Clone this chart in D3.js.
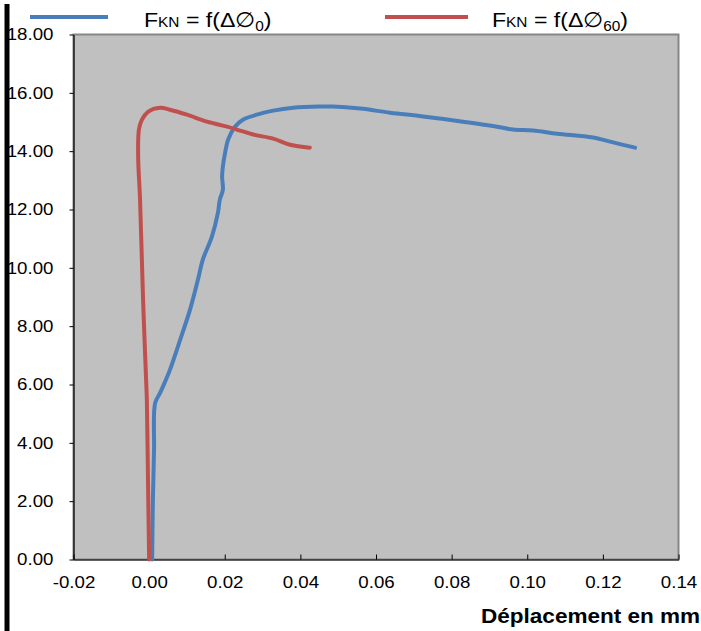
<!DOCTYPE html>
<html><head><meta charset="utf-8">
<script src="https://cdn.jsdelivr.net/npm/d3@7"></script>
<style>body{margin:0;background:#fff;}svg{display:block;font-family:Arial,"Liberation Sans",sans-serif;}</style>
</head><body>
<svg id="c" width="701" height="631"></svg>
<script>
const xTicks = [-0.02,0,0.02,0.04,0.06,0.08,0.10,0.12,0.14];
const yTicks = [0,2,4,6,8,10,12,14,16,18];
const seriesSub = ["0","60"];
const blueX = [0.0008,0.0010,0.0013,0.0016,0.0029,0.0042,0.0055,0.0082,0.0108,0.0129,0.0142,0.0166,0.0182,0.0187,0.0195,0.0193,0.0195,0.0201,0.0209,0.0227,0.0248,0.0285,0.0328,0.0381,0.0452,0.0486,0.0558,0.0637,0.0724,0.0830,0.0920,0.0962,0.1015,0.1079,0.1174,0.1227,0.1285];
const blueY = [0,2.04,3.76,5.37,5.71,6.09,6.50,7.53,8.56,9.59,10.28,11.07,11.89,12.34,12.68,13.13,13.47,13.95,14.40,14.84,15.08,15.25,15.39,15.49,15.53,15.53,15.46,15.32,15.19,15.01,14.84,14.74,14.71,14.60,14.47,14.30,14.12];
const redX = [0.0000,-0.0003,-0.0006,-0.0008,-0.0016,-0.0024,-0.0029,-0.0027,-0.0019,-0.0003,0.0029,0.0055,0.0100,0.0153,0.0206,0.0232,0.0275,0.0328,0.0373,0.0425];
const redY = [0,2.73,5.47,6.16,8.91,12.34,13.81,14.74,15.08,15.35,15.49,15.42,15.25,15.01,14.84,14.74,14.57,14.43,14.22,14.12];
const colors = ["#4a7ebb","#c0504d"];

const svg = d3.select("#c");
const L=73.5, R=678.5, T=34.5, B=559.5;
const SX = 1.1;
const x = d3.scaleLinear().domain([-0.02,0.14]).range([L,R]);
const y = d3.scaleLinear().domain([0,18]).range([B,T]);
const fmt = d => d.toFixed(2);

// left black bar
svg.append("rect").attr("x",4.5).attr("y",4).attr("width",5).attr("height",627).attr("fill","#000");

// plot area
svg.append("rect").attr("x",L).attr("y",T).attr("width",R-L).attr("height",B-T)
  .attr("fill","#c0c0c0").attr("stroke","#868686").attr("stroke-width",2);

// x axis (ticks inside)
const xa = svg.append("g").attr("transform",`translate(0,${B})`)
  .call(d3.axisBottom(x).tickValues(xTicks).tickSizeInner(-5).tickSizeOuter(0).tickFormat(fmt));
xa.select(".domain").attr("stroke","#000").attr("stroke-width",1.2);
xa.selectAll(".tick line").attr("stroke","#000");
xa.selectAll(".tick text").attr("font-size",17).attr("fill","#000").attr("y",28.5).attr("dy",0)
  .attr("transform",`scale(${SX},1)`)
  .attr("font-family","Arial, 'Liberation Sans', sans-serif");

// y axis (ticks outside)
const ya = svg.append("g").attr("transform",`translate(${L},0)`)
  .call(d3.axisLeft(y).tickValues(yTicks).tickSizeInner(4).tickSizeOuter(0).tickFormat(fmt));
ya.select(".domain").attr("stroke","#000").attr("stroke-width",1.2);
ya.selectAll(".tick line").attr("stroke","#000");
ya.selectAll(".tick text").attr("font-size",17).attr("fill","#000").attr("x",-20/SX)
  .attr("transform",`scale(${SX},1)`)
  .attr("font-family","Arial, 'Liberation Sans', sans-serif");

// lines
const line = d3.line().x(d=>x(d[0])).y(d=>y(d[1])).curve(d3.curveCatmullRom.alpha(0.5));
const data = [d3.zip(blueX,blueY), d3.zip(redX,redY)];
data.forEach((d,i)=>{
  svg.append("path").datum(d).attr("d",line).attr("fill","none")
    .attr("stroke",colors[i]).attr("stroke-width",4).attr("stroke-linejoin","round").attr("stroke-linecap","round");
});

// legend
const leg = [{x1:30,x2:108,tx:144},{x1:385,x2:468,tx:492}];
leg.forEach((l,i)=>{
  svg.append("line").attr("x1",l.x1).attr("x2",l.x2).attr("y1",17).attr("y2",17)
    .attr("stroke",colors[i]).attr("stroke-width",4);
  const t = svg.append("text").attr("transform",`translate(${l.tx},27) scale(${SX},1)`)
    .attr("font-size",21).attr("fill","#000");
  t.append("tspan").text("F");
  t.append("tspan").attr("font-size",14).text("KN");
  t.append("tspan").text(" = f(Δ∅");
  t.append("tspan").attr("font-size",14).attr("dy",4).text(seriesSub[i]);
  t.append("tspan").attr("dy",-4).text(")");
});

// x axis title
svg.append("text").attr("transform","translate(481,623) scale(1.1,1)").attr("font-size",20.5).attr("font-weight","bold")
  .attr("fill","#000").text("Déplacement en mm");
</script>
</body></html>
